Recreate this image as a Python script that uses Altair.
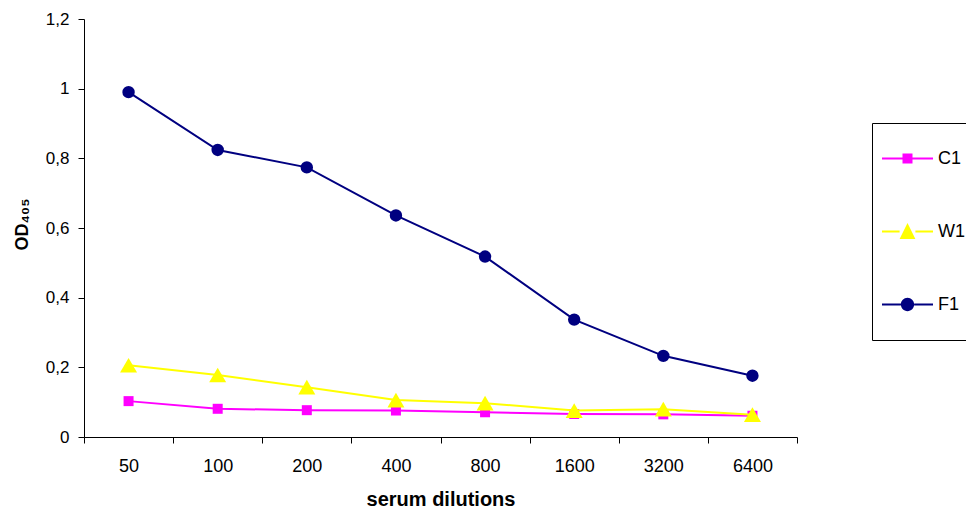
import altair as alt
import pandas as pd

# Serum dilution series and OD405 readings per sample
dilutions = ["50", "100", "200", "400", "800", "1600", "3200", "6400"]
series_names = ["C1", "W1", "F1"]
c1_values = [0.103, 0.081, 0.077, 0.076, 0.071, 0.066, 0.065, 0.061]
w1_values = [0.206, 0.178, 0.143, 0.106, 0.097, 0.076, 0.080, 0.064]
f1_values = [0.990, 0.824, 0.774, 0.636, 0.518, 0.337, 0.233, 0.176]
series_colors = ["#FF00FF", "#FFFF00", "#000080"]
y_ticks = [0, 0.2, 0.4, 0.6, 0.8, 1.0, 1.2]

FONT = "Liberation Sans"

rows = []
for name, vals in zip(series_names, [c1_values, w1_values, f1_values]):
    for d, v in zip(dilutions, vals):
        rows.append({"dilution": d, "od": v, "series": name})
df = pd.DataFrame(rows)

# Legend symbols: a short line with the marker in the middle (unit square -1..1)
t = 0.035
def seg(x1, x2):
    return f"M{x1},{-t}L{x2},{-t}L{x2},{t}L{x1},{t}Z"

sq = 0.196
square_sym = seg(-1, -sq) + seg(sq, 1) + f"M{-sq},{-sq}L{sq},{-sq}L{sq},{sq}L{-sq},{sq}Z"
tw = 0.31
triangle_sym = seg(-1, -tw) + seg(tw, 1) + f"M0,-0.33L{tw},0.29L{-tw},0.29Z"
r = 0.26
circle_sym = seg(-1, -r) + seg(r, 1) + f"M{r},0A{r},{r} 0 1,1 {-r},0A{r},{r} 0 1,1 {r},0Z"

color_scale = alt.Scale(domain=series_names, range=series_colors)

x_enc = alt.X(
    "dilution:O",
    sort=dilutions,
    scale=alt.Scale(type="band", paddingInner=0, paddingOuter=0),
    bandPosition=0.5,
    axis=alt.Axis(
        title="serum dilutions",
        labelAngle=0,
        tickBand="extent",
        tickSize=6,
        tickColor="black",
        domainColor="black",
        labelColor="black",
        labelFont=FONT,
        labelFontSize=18,
        labelPadding=14,
        titleFont=FONT,
        titleFontSize=20,
        titleFontWeight="bold",
        titleColor="black",
        titleBaseline="alphabetic",
        titleY=68,
        grid=False,
    ),
)

y_enc = alt.Y(
    "od:Q",
    scale=alt.Scale(domain=[0, 1.2], nice=False),
    axis=alt.Axis(
        title="OD₄₀₅",
        values=y_ticks,
        labelExpr="replace(format(datum.value, '.1~f'), '.', ',')",
        tickSize=6,
        tickColor="black",
        domainColor="black",
        labelColor="black",
        labelFont=FONT,
        labelFontSize=17,
        labelPadding=9,
        titleFont=FONT,
        titleFontSize=18,
        titleFontWeight="bold",
        titleColor="black",
        titleAngle=-90,
        titleAlign="center",
        titleBaseline="alphabetic",
        titleX=-57,
        titleY=205,
        grid=False,
    ),
)

base = alt.Chart(df)

# One line + marker layer per series, drawn in series order
marker_shapes = {"C1": ("square", 100), "W1": ("triangle-up", 289), "F1": ("circle", 154)}
series_layers = []
for name, col in zip(series_names, series_colors):
    shp, sz = marker_shapes[name]
    sub = base.transform_filter(alt.datum.series == name)
    series_layers.append(
        sub.mark_line(strokeWidth=2, color=col).encode(x=x_enc, y=y_enc)
    )
    series_layers.append(
        sub.mark_point(filled=True, shape=shp, size=sz, opacity=1, color=col)
        .encode(x=x_enc, y=y_enc)
    )

# Blank bottom title only adds room below the last entry
legend_def = alt.Legend(
    title=" ",
    titleOrient="bottom",
    titleFontSize=8,
    titlePadding=8,
    orient="none",
    legendX=788,
    legendY=104,
    symbolSize=2601,
    symbolStrokeWidth=0,
    symbolOpacity=1,
    labelFont=FONT,
    labelFontSize=18,
    labelColor="black",
    labelOffset=5,
    padding=10,
    rowPadding=38,
    strokeColor="black",
    fillColor="white",
)

# Invisible layer that only carries the legend (colour + line/marker symbol)
legend_layer = base.mark_point(filled=True, size=0, strokeWidth=0).encode(
    x=x_enc, y=y_enc,
    color=alt.Color("series:N", scale=color_scale, legend=legend_def),
    shape=alt.Shape(
        "series:N",
        scale=alt.Scale(domain=series_names, range=[square_sym, triangle_sym, circle_sym]),
        legend=legend_def,
    ),
)

chart = (
    alt.layer(*series_layers, legend_layer)
    .properties(
        width=713,
        height=418,
        autosize=alt.AutoSizeParams(type="none"),
        padding={"left": 84, "top": 19, "right": 169, "bottom": 74},
        background="white",
    )
    .configure_view(stroke=None)
)

chart.save("out.html", embed_options={"renderer": "svg", "actions": False})
